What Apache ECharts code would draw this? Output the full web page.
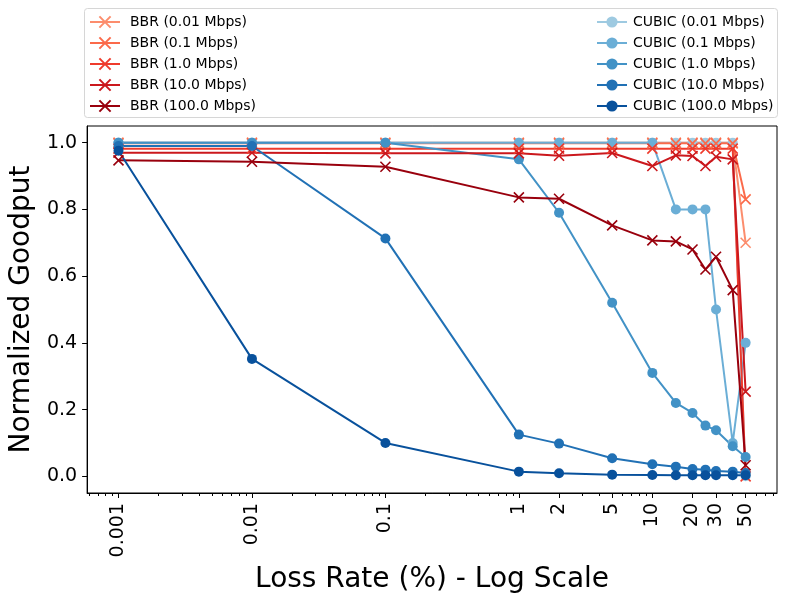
<!DOCTYPE html>
<html>
<head>
<meta charset="utf-8">
<script src="https://cdn.jsdelivr.net/npm/echarts@6/dist/echarts.min.js"></script>
<style>html,body{margin:0;padding:0;background:#fff}#c{width:789px;height:602px}</style>
</head>
<body>
<div id="c"></div>
<script>
// ---- data ----
const lossRates = [0.001, 0.01, 0.1, 1, 2, 5, 10, 15, 20, 25, 30, 40, 50];
const bbr001  = [1.0, 1.0, 1.0, 1.0, 1.0, 1.0, 1.0, 1.0, 1.0, 1.0, 1.0, 1.0, 0.70];
const bbr01   = [0.998, 0.998, 0.998, 0.998, 0.998, 0.998, 0.998, 0.998, 0.998, 0.998, 0.998, 0.998, 0.83];
const bbr1    = [0.982, 0.982, 0.982, 0.982, 0.982, 0.982, 0.982, 0.982, 0.982, 0.982, 0.982, 0.982, 0.0];
const bbr10   = [0.97, 0.97, 0.968, 0.968, 0.961, 0.969, 0.93, 0.962, 0.96, 0.93, 0.958, 0.95, 0.254];
const bbr100  = [0.947, 0.943, 0.928, 0.836, 0.832, 0.752, 0.707, 0.704, 0.68, 0.62, 0.658, 0.558, 0.033];
const cubic001 = [1.0, 1.0, 1.0, 1.0, 1.0, 1.0, 1.0, 1.0, 1.0, 1.0, 1.0, 1.0, 0.0];
const cubic01  = [1.0, 1.0, 1.0, 1.0, 1.0, 1.0, 1.0, 0.80, 0.80, 0.80, 0.50, 0.10, 0.40];
const cubic1   = [1.0, 1.0, 1.0, 0.95, 0.79, 0.52, 0.31, 0.22, 0.19, 0.152, 0.138, 0.09, 0.058];
const cubic10  = [0.99, 0.99, 0.713, 0.125, 0.098, 0.054, 0.036, 0.029, 0.022, 0.02, 0.016, 0.014, 0.01];
const cubic100 = [0.976, 0.352, 0.10, 0.014, 0.009, 0.005, 0.004, 0.003, 0.003, 0.003, 0.003, 0.003, 0.003];

const bbrNames = ['BBR (0.01 Mbps)', 'BBR (0.1 Mbps)', 'BBR (1.0 Mbps)', 'BBR (10.0 Mbps)', 'BBR (100.0 Mbps)'];
const cubicNames = ['CUBIC (0.01 Mbps)', 'CUBIC (0.1 Mbps)', 'CUBIC (1.0 Mbps)', 'CUBIC (10.0 Mbps)', 'CUBIC (100.0 Mbps)'];
const bbrValues = [bbr001, bbr01, bbr1, bbr10, bbr100];
const cubicValues = [cubic001, cubic01, cubic1, cubic10, cubic100];
const bbrColors = ['#fc8d6d', '#fb6a4a', '#ef3b2c', '#cb181d', '#99000d'];
const cubicColors = ['#9ecae1', '#6baed6', '#4292c6', '#2171b5', '#08519c'];

const majorTicks = [0.001, 0.01, 0.1, 1, 2, 5, 10, 20, 30, 50];
const minorTicks = [0.0006, 0.0007, 0.0008, 0.0009,
  0.002, 0.003, 0.004, 0.005, 0.006, 0.007, 0.008, 0.009,
  0.02, 0.03, 0.04, 0.05, 0.06, 0.07, 0.08, 0.09,
  0.2, 0.3, 0.4, 0.5, 0.6, 0.7, 0.8, 0.9,
  3, 4, 6, 7, 8, 9, 40, 60, 70, 80];
const yTicks = [0, 0.2, 0.4, 0.6, 0.8, 1.0];

const FONT = 'DejaVu Sans';
const xMin = 0.000582, xMax = 85.9;
const XSYM = 'path://M0,0L10,10M10,0L0,10';

function pairs(vals) { return lossRates.map((x, i) => [x, vals[i]]); }

const series = [];
for (let i = 0; i < 5; i++) {
  series.push({
    name: bbrNames[i], type: 'line', data: pairs(bbrValues[i]),
    symbol: XSYM, symbolSize: 10, showAllSymbol: true,
    lineStyle: { color: bbrColors[i], width: 2 },
    itemStyle: { color: bbrColors[i], borderColor: bbrColors[i], borderWidth: 1.6 },
    emphasis: { disabled: true }
  });
  series.push({
    name: cubicNames[i], type: 'line', data: pairs(cubicValues[i]),
    symbol: 'circle', symbolSize: 10, showAllSymbol: true,
    lineStyle: { color: cubicColors[i], width: 2 },
    itemStyle: { color: cubicColors[i], borderWidth: 0 },
    emphasis: { disabled: true }
  });
}

const chart = echarts.init(document.getElementById('c'), null, { renderer: 'canvas' });
const axisText = { fontFamily: FONT, fontSize: 19, color: '#000' };
chart.setOption({
  animation: false,
  backgroundColor: '#fff',
  textStyle: { fontFamily: FONT },
  graphic: [{
    type: 'rect', shape: { x: 84.5, y: 8.5, width: 693, height: 109, r: 3 },
    style: { fill: '#fff', stroke: '#d6d6d6', lineWidth: 1 }, z: -1, silent: true
  }],
  legend: [{
    data: bbrNames, orient: 'vertical', left: 89, top: 15, padding: 0,
    itemWidth: 30, itemHeight: 14, itemGap: 7,
    textStyle: { fontFamily: FONT, fontSize: 14, color: '#000', padding: [0, 0, 0, 5] },
    selectedMode: false
  }, {
    data: cubicNames, orient: 'vertical', left: 596, top: 15, padding: 0,
    itemWidth: 30, itemHeight: 14, itemGap: 7,
    textStyle: { fontFamily: FONT, fontSize: 14, color: '#000', padding: [0, 0, 0, 1] },
    selectedMode: false
  }],
  grid: { left: 86, right: 12, top: 126, bottom: 109, show: true, borderColor: '#000', borderWidth: 1, backgroundColor: 'transparent', containLabel: false },
  xAxis: [{
    type: 'log', logBase: 10, min: xMin, max: xMax,
    name: 'Loss Rate (%) - Log Scale', nameLocation: 'middle', nameGap: 69,
    nameTextStyle: { fontFamily: FONT, fontSize: 28, color: '#000' },
    axisLine: { show: true, onZero: false, lineStyle: { color: '#000', width: 1 } },
    axisTick: { show: true, length: 5, lineStyle: { color: '#000' }, customValues: majorTicks },
    axisLabel: Object.assign({ rotate: 90, margin: 10, customValues: majorTicks,
      formatter: v => String(+Number(v).toPrecision(6)) }, axisText),
    splitLine: { show: false }, minorTick: { show: false }
  }, {
    type: 'log', logBase: 10, min: xMin, max: xMax, position: 'bottom',
    axisLine: { show: false, onZero: false },
    axisTick: { show: true, length: 3, lineStyle: { color: '#000' }, customValues: minorTicks },
    axisLabel: { show: false },
    splitLine: { show: false }
  }],
  yAxis: {
    type: 'value', min: -0.05, max: 1.05,
    name: 'Normalized Goodput', nameLocation: 'middle', nameGap: 49,
    nameTextStyle: { fontFamily: FONT, fontSize: 28, color: '#000' },
    axisLine: { show: true, onZero: false, lineStyle: { color: '#000', width: 1 } },
    axisTick: { show: true, length: 5, lineStyle: { color: '#000' }, customValues: yTicks },
    axisLabel: Object.assign({ margin: 10, customValues: yTicks, formatter: v => Number(v).toFixed(1) }, axisText),
    splitLine: { show: false }
  },
  series: series
});
</script>
</body>
</html>
